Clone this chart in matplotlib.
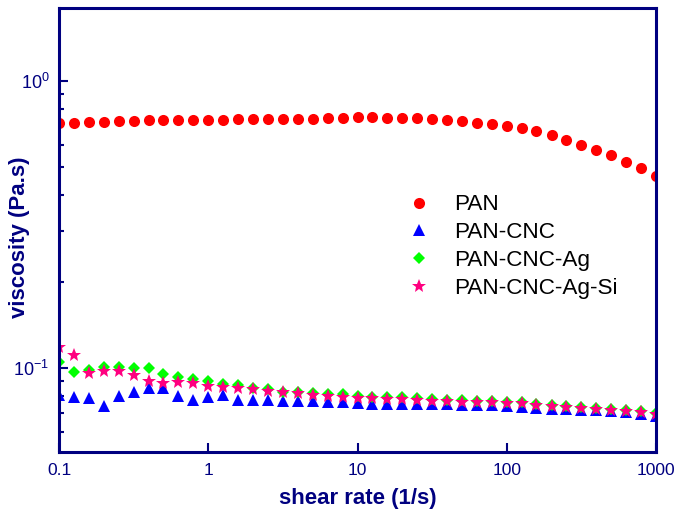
import matplotlib

matplotlib.use("Agg")

import matplotlib.pyplot as plt
from matplotlib.ticker import FixedLocator, NullLocator

NAVY = "#000080"

shear_rate = [
    0.1, 0.126, 0.158, 0.2, 0.251, 0.316, 0.398, 0.501, 0.631, 0.794,
    1.0, 1.26, 1.58, 2.0, 2.51, 3.16, 3.98, 5.01, 6.31, 7.94,
    10.0, 12.6, 15.8, 20.0, 25.1, 31.6, 39.8, 50.1, 63.1, 79.4,
    100.0, 126.0, 158.0, 200.0, 251.0, 316.0, 398.0, 501.0, 631.0, 794.0,
    1000.0,
]

pan = [
    0.716, 0.716, 0.718, 0.720, 0.725, 0.727, 0.730, 0.731, 0.731, 0.731,
    0.733, 0.733, 0.735, 0.735, 0.735, 0.737, 0.737, 0.739, 0.741, 0.745,
    0.747, 0.747, 0.745, 0.743, 0.741, 0.737, 0.731, 0.724, 0.716, 0.707,
    0.697, 0.684, 0.670, 0.648, 0.623, 0.598, 0.575, 0.552, 0.523, 0.496,
    0.467,
]

pan_cnc = [
    0.0805, 0.0794, 0.0788, 0.0739, 0.0799, 0.0827, 0.0850, 0.0850, 0.0801, 0.0772,
    0.0792, 0.0803, 0.0776, 0.0776, 0.0772, 0.0767, 0.0765, 0.0765, 0.0761, 0.0761,
    0.0755, 0.0751, 0.0751, 0.0751, 0.0747, 0.0747, 0.0747, 0.0743, 0.0741, 0.0741,
    0.0735, 0.0731, 0.0727, 0.0722, 0.0718, 0.0712, 0.0712, 0.0706, 0.0703, 0.0693,
    0.0679,
]

pan_cnc_ag = [
    0.1050, 0.0966, 0.0984, 0.1011, 0.1011, 0.1003, 0.0998, 0.0951, 0.0933, 0.0914,
    0.0901, 0.0880, 0.0870, 0.0854, 0.0843, 0.0827, 0.0827, 0.0820, 0.0812, 0.0809,
    0.0801, 0.0795, 0.0795, 0.0790, 0.0784, 0.0778, 0.0774, 0.0774, 0.0769, 0.0769,
    0.0763, 0.0759, 0.0749, 0.0743, 0.0737, 0.0733, 0.0727, 0.0720, 0.0714, 0.0708,
    0.0695,
]

pan_cnc_ag_si = [
    0.1180, 0.1110, 0.0963, 0.0978, 0.0976, 0.0943, 0.0902, 0.0889, 0.0896, 0.0885,
    0.0865, 0.0860, 0.0850, 0.0843, 0.0832, 0.0825, 0.0816, 0.0808, 0.0800, 0.0794,
    0.0786, 0.0784, 0.0780, 0.0780, 0.0774, 0.0767, 0.0767, 0.0763, 0.0763, 0.0759,
    0.0757, 0.0753, 0.0743, 0.0737, 0.0729, 0.0727, 0.0720, 0.0714, 0.0708, 0.0701,
    0.0690,
]

series_labels = ["PAN", "PAN-CNC", "PAN-CNC-Ag", "PAN-CNC-Ag-Si"]
x_ticks = [1, 10, 100]
x_tick_labels = ["1", "10", "100"]
x_edge_labels = ["0.1", "1000"]
y_ticks = [0.1, 1.0]
y_tick_labels = [r"$\mathregular{10^{-1}}$", r"$\mathregular{10^{0}}$"]
y_minor = [0.06, 0.07, 0.08, 0.09, 0.2, 0.3, 0.4, 0.5, 0.6, 0.7, 0.8, 0.9]

plt.rcParams["font.family"] = ["Liberation Sans", "DejaVu Sans"]
plt.rcParams["mathtext.fontset"] = "custom"
plt.rcParams["mathtext.rm"] = "Liberation Sans"

fig = plt.figure(figsize=(6.8, 5.15), dpi=100)
ax = fig.add_axes([59 / 680, 1 - 452 / 515, 597 / 680, 444 / 515])
ax.set_xscale("log")
ax.set_yscale("log")
ax.set_xlim(0.1, 1000)
ax.set_ylim(0.051, 1.797)

styles = [
    dict(marker="o", color="#FF0000", ms=8.0),
    dict(marker="^", color="#0000FF", ms=8.5),
    dict(marker="D", color="#00FF00", ms=6.6),
    dict(marker="*", color="#FF0080", ms=10.5),
]
for values, label, style in zip(
    [pan, pan_cnc, pan_cnc_ag, pan_cnc_ag_si], series_labels, styles
):
    ax.plot(
        shear_rate, values, linestyle="none", marker=style["marker"],
        color=style["color"], markersize=style["ms"], markeredgewidth=0,
        label=label,
    )

for spine in ax.spines.values():
    spine.set_color(NAVY)
    spine.set_linewidth(2.2)

# all x labels incl. the two at the axis ends
ax.xaxis.set_major_locator(FixedLocator([0.1] + x_ticks + [1000]))
ax.set_xticklabels([x_edge_labels[0]] + x_tick_labels + [x_edge_labels[1]])
ax.xaxis.set_minor_locator(NullLocator())
ax.yaxis.set_major_locator(FixedLocator(y_ticks))
ax.set_yticklabels(y_tick_labels)
ax.yaxis.set_minor_locator(FixedLocator(y_minor))
ax.yaxis.set_minor_formatter(plt.NullFormatter())

ax.tick_params(which="both", direction="in", color=NAVY, labelcolor=NAVY,
               top=False, right=False)
ax.tick_params(which="major", length=6.5, width=1.5, labelsize=12.5, pad=8)
ax.tick_params(axis="y", which="major", labelsize=13, pad=7)
ax.tick_params(which="minor", length=3.6, width=1.5)

ax.set_xlabel("shear rate (1/s)", fontsize=16, fontweight="bold", color=NAVY)
ax.set_ylabel("viscosity (Pa.s)", fontsize=16, fontweight="bold", color=NAVY)
ax.xaxis.set_label_coords(0.5, -0.081)
ax.yaxis.set_label_coords(-0.049, 0.483)

ax.legend(
    loc="upper left", bbox_to_anchor=(408 / 680, 1 - 194.5 / 515),
    bbox_transform=fig.transFigure, frameon=False, fontsize=16.2,
    handlelength=1.0, handletextpad=1.05, labelspacing=0.3,
    borderpad=0, borderaxespad=0,
)

fig.savefig("out.png", dpi=100, facecolor="white")
